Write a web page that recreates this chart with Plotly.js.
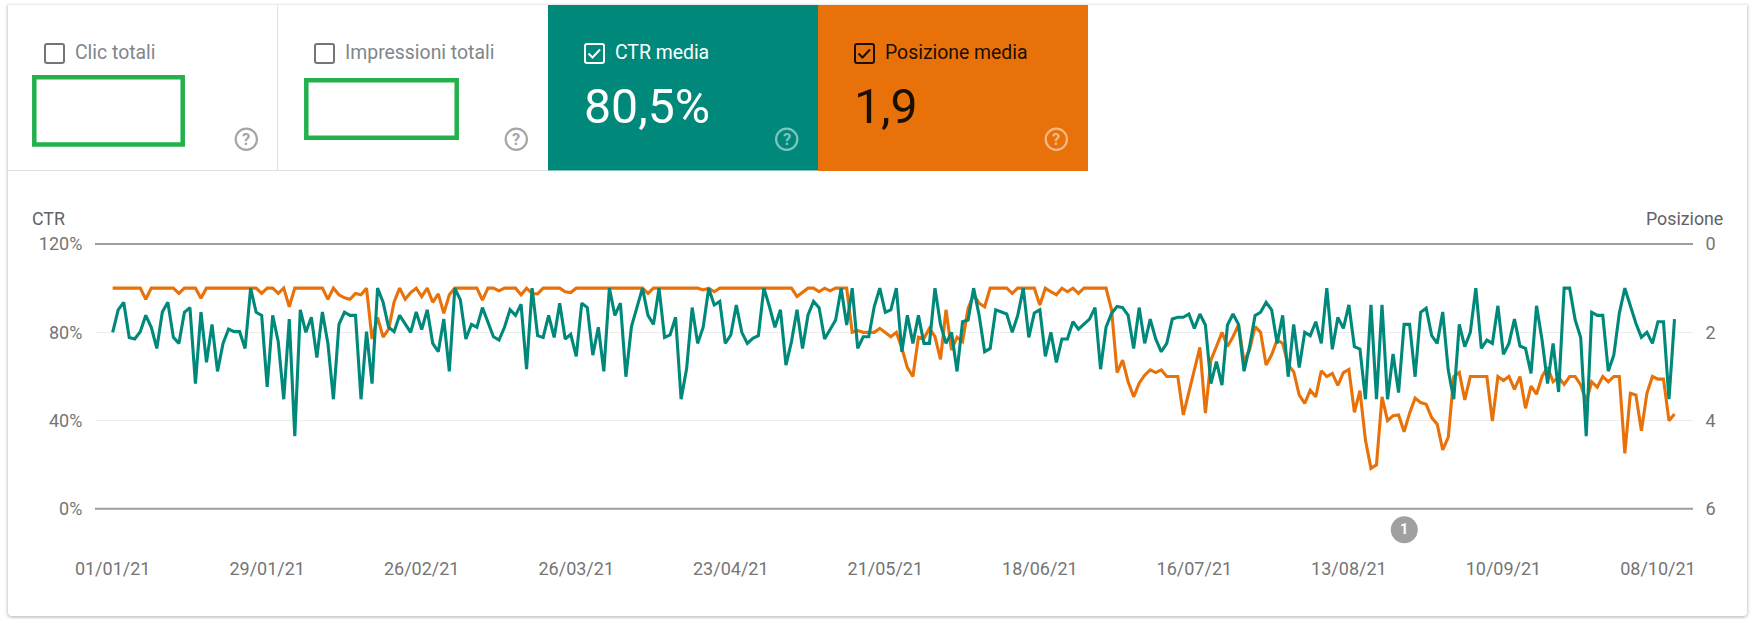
<!DOCTYPE html>
<html>
<head>
<meta charset="utf-8">
<script src="https://cdn.plot.ly/plotly-3.0.1.min.js"></script>
<style>
html,body{margin:0;padding:0;background:#fff;overflow:hidden}
#chart{position:absolute;left:8px;top:5px;width:1739px;height:611px;background:#fff;border-radius:0 0 4px 4px;
box-shadow:0 1px 3px 1px rgba(60,64,67,.28)}
</style>
</head>
<body>
<div id="chart"></div>
<script>
const startDate = Date.UTC(2021, 0, 1);
const ctrValues = [
80,90.2,93.6,77.7,77,80.3,87.7,82.3,72.7,89.2,
93.6,77.7,75,89.1,91.2,56.8,89.2,66.4,83.6,62.3,
75,81.5,80.3,80.3,72.7,100,89.1,87.7,55.3,87.7,
75.8,49.7,86,33,90.2,80,86.8,68.6,89.2,75,
49.7,83.6,89.1,87.7,87.7,49.7,80.3,56.8,100,93.6,
82.3,80.3,87.7,83.7,80,89.2,81.3,90.2,75,71.2,
86,62.3,100,94.7,77,83.6,82.3,91.2,84.8,78,
76.5,82.3,90.3,87.7,92.7,63.3,100,78.5,77.7,87.7,
77.7,93.2,77,79.1,69.1,93.2,91.2,69.7,82.3,62.3,
100,87.7,93.2,59.9,82.6,91.7,100,87.7,83.6,100,
77.7,78.8,86.8,49.7,63.6,91.2,75,82.3,100,92.4,
94,75,78.8,92.4,80,75,77.3,78.5,100,91.7,
82.3,90.2,65.2,75.8,90.2,72.7,87.9,94,91.2,77,
81.4,85.6,100,83.3,100,72.7,78,78,91.7,100,
89.1,90.2,100,71.2,87.7,75,87.7,75,75,100,
83.6,75,80,62.3,84.8,85.6,100,87.7,71.2,72.7,
90.2,89.2,88.3,80,87.7,100,77.7,88.8,90.2,69.1,
80,66.4,77,77,84.8,81.4,83.6,86,91.2,63.3,
82.3,88.6,91.7,91.2,87.7,72.7,91.2,75,86,77,
71.2,75,86,86.8,86.8,88.3,81.8,88.3,83.3,56.8,
66.7,56.1,83.3,88.3,83.6,62.4,73.5,87.6,89.1,93.6,
90.2,75,87.7,59.9,83.6,64.1,80,78.5,84.8,75,
100,72.3,86.8,81.8,92.4,73.5,72.4,49.7,92.4,49.7,
92.4,49.7,70.2,52.7,83.6,83.6,59.9,89.1,90.9,78.5,
75,89.2,62.9,49.7,83.6,73.5,80,100,72.7,76.5,
75,92,70,75,86,73.8,72.7,61.4,92,76.5,
56.8,75,53,100,100,85.6,77.7,33,89.1,87.7,
87.7,62.4,69.7,88.6,100,91.7,84.1,77.7,80,75,
84.8,84.8,49.7,86
];
const positionValues = [
1,1,1,1,1,1,1.25,1,1,1,
1,1,1.12,1,1,1,1.23,1,1,1,
1,1,1,1,1,1,1,1.12,1,1,
1.12,1,1.42,1,1,1,1,1,1,1.25,
1,1.15,1.22,1.25,1.12,1.15,1,2.15,1.66,2.11,
1.93,1.31,1,1.25,1.1,1,1.19,1,1.32,1.13,
1.57,1.15,1,1,1,1,1,1.27,1,1,
1.06,1,1,1,1.15,1,1.12,1.13,1,1,
1,1,1.08,1.1,1,1,1,1,1,1,
1,1,1,1,1,1,1,1.12,1,1,
1,1,1,1,1,1,1,1.04,1,1.08,
1,1,1,1,1,1,1,1,1,1,
1,1,1,1,1.19,1.1,1,1,1.08,1,
1.06,1,1,1,2,1.96,2,2,2,1.91,
2,2.1,2,2.36,2.8,3,2.11,2.14,1.91,2.1,
2.61,1.49,2.4,2.11,2.21,1.46,1.15,1.34,1.42,1,
1,1,1,1.12,1,1,1,1,1.38,1,
1.08,1.15,1,1.08,1,1.12,1,1,1,1,
1,1.49,2.91,2.63,3.12,3.46,3.15,2.97,2.85,2.91,
2.85,3,3,3,3.87,3.38,2.82,2.34,3.83,2.63,
2.32,2,2.32,2.1,1.83,2.66,2.4,1.87,2,2.74,
2.51,2.17,2.25,2.74,2.89,3.42,3.61,3.31,3.46,2.87,
3,2.93,3.2,2.91,2.84,3.81,3.32,4.44,5.08,5,
3.46,4,3.89,3.87,4.25,3.83,3.49,3.59,3.63,3.93,
4.08,4.66,4.38,3,2.91,3.53,3,3,3,3,
4.01,3,3.09,3,3.29,3,3.72,3.22,3.4,3,
2.79,3.12,3.02,3.18,3,3,3.19,3.57,3.12,3.24,
3,3.12,3,3,4.74,3.38,3.42,4.23,3.38,3,
3.06,3.06,4,3.85
];
const xTickDates = ['2021-01-01','2021-01-29','2021-02-26','2021-03-26','2021-04-23','2021-05-21','2021-06-18','2021-07-16','2021-08-13','2021-09-10','2021-10-08'];
const xTickLabels = ['01/01/21','29/01/21','26/02/21','26/03/21','23/04/21','21/05/21','18/06/21','16/07/21','13/08/21','10/09/21','08/10/21'];
const ctrTicks = [0,40,80,120];
const ctrTickLabels = ['0%','40%','80%','120%'];
const positionTicks = [0,2,4,6];

const dates = ctrValues.map((_, i) => new Date(startDate + i * 864e5).toISOString().slice(0,10));
const xAt = d => new Date(startDate + d * 864e5).toISOString();

// page pixels -> paper coords
const L=95,R=1693,T=244,B=509,W=1739,H=611,OX=8,OY=5;
const px = x => (x-L)/(R-L);
const py = y => (B-y)/(B-T);
const TEAL='#00897b', ORANGE='#e8710a', FONT='Roboto, Arial, sans-serif';

const rect=(x0,y0,x1,y1,o)=>Object.assign({type:'rect',xref:'paper',yref:'paper',x0:px(x0),x1:px(x1),y0:py(y0),y1:py(y1),line:{width:0}},o);
const circle=(cx,cy,r,o)=>Object.assign({type:'circle',xref:'paper',yref:'paper',x0:px(cx-r),x1:px(cx+r),y0:py(cy-r),y1:py(cy+r),line:{width:0}},o);
const hline=(x0,x1,y,c,w)=>({type:'line',xref:'paper',yref:'paper',x0:px(x0),x1:px(x1),y0:py(y),y1:py(y),line:{color:c,width:w||1}});
const vline=(x,y0,y1,c)=>({type:'line',xref:'paper',yref:'paper',x0:px(x),x1:px(x),y0:py(y0),y1:py(y1),line:{color:c,width:1}});
const tick=(x,y,c)=>({type:'path',xref:'paper',yref:'paper',
  path:`M ${px(x+4.5)} ${py(y+10.5)} L ${px(x+8.5)} ${py(y+14.5)} L ${px(x+16)} ${py(y+6.5)}`,line:{color:c,width:2}});
const box=(x,y,c)=>{
  const a=x+1,b=x+20,d=y+1,e=y+20,r=2;
  const p=(u,v)=>`${px(u)} ${py(v)}`;
  return {type:'path',xref:'paper',yref:'paper',line:{color:c,width:2},
    path:`M ${p(a+r,d)} L ${p(b-r,d)} Q ${p(b,d)} ${p(b,d+r)} L ${p(b,e-r)} Q ${p(b,e)} ${p(b-r,e)} L ${p(a+r,e)} Q ${p(a,e)} ${p(a,e-r)} L ${p(a,d+r)} Q ${p(a,d)} ${p(a+r,d)} Z`};
};
const label=(text,x,y,size,color,anchor)=>({text,x:px(x),y:py(y),xref:'paper',yref:'paper',showarrow:false,xanchor:anchor||'left',yanchor:'middle',
  font:{family:FONT,size,color},borderpad:0,borderwidth:0});

const shapes=[
  rect(548,5,818,170.5,{fillcolor:TEAL}),
  rect(818,5,1088,171,{fillcolor:ORANGE}),
  hline(8,548,170.5,'#e0e0e0'),
  vline(277.5,5,170,'#e0e0e0'),
  hline(L,R,244,'#9e9e9e',2),
  hline(L,R,508.7,'#9e9e9e',2),
  box(44,43,'#757575'), box(314,43,'#757575'),
  box(584,43,'#ffffff'), tick(584,43,'#ffffff'),
  box(854,43,'#1a0f00'), tick(854,43,'#1a0f00'),
  rect(34.3,77.3,182.7,144.4,{line:{color:'#22b14c',width:4.5}}),
  rect(306.3,80.3,456.7,137.7,{line:{color:'#22b14c',width:4.5}}),
  circle(246.3,139.3,10.6,{line:{color:'#a6a6a6',width:2.2}}),
  circle(516.3,139.3,10.6,{line:{color:'#a6a6a6',width:2.2}}),
  circle(786.7,139.3,10.6,{line:{color:'rgba(255,255,255,.5)',width:2.2}}),
  circle(1056.3,139.3,10.6,{line:{color:'rgba(255,255,255,.5)',width:2.2}}),
  circle(1404.3,529.7,13.5,{fillcolor:'#a0a0a0'})
];
const annotations=[
  label('Clic totali',74.5,53,19.4,'#80868b'),
  label('Impressioni totali',344.5,53,19.4,'#80868b'),
  label('CTR media',614.5,53,19.4,'#ffffff'),
  label('Posizione media',885,53,19.4,'#1a0f00'),
  label('80,5%',584,106.5,48.2,'#ffffff'),
  label('1,9',854,106.5,48.2,'#1a0f00'),
  label('<b>?</b>',246.3,139.6,16.5,'#a6a6a6','center'),
  label('<b>?</b>',516.3,139.6,16.5,'#a6a6a6','center'),
  label('<b>?</b>',786.7,139.6,16.5,'rgba(255,255,255,.5)','center'),
  label('<b>?</b>',1056.3,139.6,16.5,'rgba(255,255,255,.5)','center'),
  label('<b>1</b>',1404.3,529.7,14.5,'#ffffff','center'),
  label('CTR',32,218,17.8,'#5f6368'),
  label('Posizione',1645.5,218,17.8,'#5f6368')
];

const traces=[
  {name:'Posizione',x:dates,y:positionValues,xaxis:'x',yaxis:'y',type:'scatter',mode:'lines',line:{color:ORANGE,width:3.1}},
  {name:'CTR',x:dates,y:ctrValues,xaxis:'x',yaxis:'y2',type:'scatter',mode:'lines',line:{color:TEAL,width:3.1}}
];
const tickFont={family:FONT,size:18,color:'#757575'};
const layout={
  width:W,height:H,paper_bgcolor:'rgba(0,0,0,0)',plot_bgcolor:'rgba(0,0,0,0)',showlegend:false,
  margin:{l:L-OX,r:OX+W-R,t:T-OY,b:OY+H-B,pad:0},
  font:{family:FONT,size:18,color:'#757575'},
  xaxis:{type:'date',range:[xAt(-3.2),xAt(286.35)],tickmode:'array',tickvals:xTickDates,ticktext:xTickLabels,tickangle:0,
    showgrid:false,zeroline:false,showline:false,
    ticks:'outside',ticklen:43,tickcolor:'rgba(0,0,0,0)',tickfont:tickFont},
  yaxis:{range:[6,0],side:'right',tickmode:'array',tickvals:positionTicks,ticktext:positionTicks.map(String),showgrid:false,zeroline:false,showline:false,
    ticks:'outside',ticklen:8,tickcolor:'rgba(0,0,0,0)',tickfont:tickFont},
  yaxis2:{range:[0,120],side:'left',overlaying:'y',tickmode:'array',tickvals:ctrTicks,ticktext:ctrTickLabels,showgrid:true,gridcolor:'#ececec',gridwidth:1,zeroline:false,showline:false,
    ticks:'outside',ticklen:8,tickcolor:'rgba(0,0,0,0)',tickfont:tickFont},
  shapes,annotations
};
Plotly.newPlot('chart',traces,layout,{displayModeBar:false,staticPlot:true});
</script>
</body>
</html>
